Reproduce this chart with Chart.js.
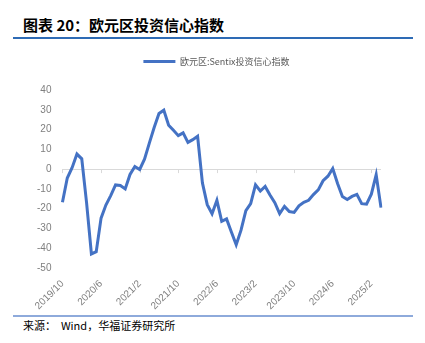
<!DOCTYPE html>
<html>
<head>
<meta charset="utf-8">
<script src="https://cdn.jsdelivr.net/npm/chart.js@4"></script>
<style>
  body { margin: 0; background: #fff; font-family: "Noto Sans CJK SC", sans-serif; }
  #page { position: relative; width: 425px; height: 343px; overflow: hidden; }
  #title { position: absolute; left: 23px; top: 14px; font-size: 15px; font-weight: bold; color: #000; }
  #topRule { position: absolute; left: 13px; top: 37px; width: 400px; height: 2px; background: #2e6bb5; }
  #chartBox { position: absolute; left: 0; top: 39px; width: 425px; height: 275px; }
  #bottomRule { position: absolute; left: 13px; top: 315px; width: 400px; height: 2px; background: #8eaadb; }
  #source { position: absolute; left: 23px; top: 317px; font-size: 11px; color: #000; }
</style>
</head>
<body>
<div id="page">
  <div id="title">图表 20：欧元区投资信心指数</div>
  <div id="topRule"></div>
  <div id="chartBox"><canvas id="myChart"></canvas></div>
  <div id="bottomRule"></div>
  <div id="source">来源：&nbsp;&nbsp;Wind，华福证券研究所</div>
</div>
<script>
const months = [
  "2019/10","2019/11","2019/12",
  "2020/1","2020/2","2020/3","2020/4","2020/5","2020/6","2020/7","2020/8","2020/9","2020/10","2020/11","2020/12",
  "2021/1","2021/2","2021/3","2021/4","2021/5","2021/6","2021/7","2021/8","2021/9","2021/10","2021/11","2021/12",
  "2022/1","2022/2","2022/3","2022/4","2022/5","2022/6","2022/7","2022/8","2022/9","2022/10","2022/11","2022/12",
  "2023/1","2023/2","2023/3","2023/4","2023/5","2023/6","2023/7","2023/8","2023/9","2023/10","2023/11","2023/12",
  "2024/1","2024/2","2024/3","2024/4","2024/5","2024/6","2024/7","2024/8","2024/9","2024/10","2024/11","2024/12",
  "2025/1","2025/2","2025/3","2025/4"
];

const sentix = [
  -16.8, -4.5, 0.7,
  7.6, 5.2, -17.1, -42.9, -41.8, -24.8, -18.2, -13.4, -8.0, -8.3, -10.0, -2.7,
  1.3, -0.2, 5.0, 13.1, 21.0, 28.1, 29.8, 22.2, 19.6, 16.9, 18.3, 13.5,
  14.9, 16.6, -7.0, -18.0, -22.6, -15.8, -26.4, -25.2, -31.8, -38.3, -30.9, -21.0,
  -17.5, -8.0, -11.1, -8.8, -13.1, -17.0, -22.5, -18.9, -21.5, -21.9, -18.6, -16.8,
  -15.8, -12.9, -10.5, -5.9, -3.6, 0.3, -7.3, -13.9, -15.4, -13.8, -12.8, -17.5,
  -17.7, -12.7, -2.9, -19.5
];

const seriesName = "欧元区:Sentix投资信心指数";
const yTicks = [-50, -40, -30, -20, -10, 0, 10, 20, 30, 40];
const labelEvery = 8;

const blue = "#4472c4";

// little tick marks hanging off the zero line, like the excel axis
const zeroTicks = {
  id: "zeroTicks",
  beforeDatasetsDraw(chart) {
    const x = chart.scales.x, y = chart.scales.y;
    const y0 = y.getPixelForValue(0);
    const ctx = chart.ctx;
    ctx.save();
    ctx.strokeStyle = "#d9d9d9";
    ctx.lineWidth = 1;
    ctx.beginPath();
    for (let i = 0; i < months.length; i += labelEvery) {
      const px = Math.round(x.getPixelForValue(i)) + 0.5;
      ctx.moveTo(px, y0);
      ctx.lineTo(px, y0 + 4);
    }
    ctx.stroke();
    ctx.restore();
  }
};

// push the plot down a bit under the legend, and nudge legend right
const legendGap = {
  id: "legendGap",
  beforeInit(chart) {
    const origFit = chart.legend.fit;
    chart.legend.fit = function () {
      origFit.bind(chart.legend)();
      this.height += 14;
    };
  },
  afterLayout(chart) {
    chart.legend.left += 13;
    chart.legend.right += 13;
  }
};

const ctx = document.getElementById("myChart").getContext("2d");
new Chart(ctx, {
  type: "line",
  data: {
    labels: months,
    datasets: [{
      label: seriesName,
      data: sentix,
      borderColor: blue,
      backgroundColor: blue,
      borderWidth: 3,
      pointRadius: 0,
      tension: 0,
      fill: false
    }]
  },
  options: {
    responsive: true,
    maintainAspectRatio: false,
    animation: false,
    layout: { padding: { left: 26, right: 44, top: 0, bottom: 0 } },
    plugins: {
      tooltip: { enabled: false },
      legend: {
        position: "top",
        labels: {
          boxWidth: 32,
          boxHeight: 3,
          padding: 18,
          color: "#595959",
          font: { size: 9, family: "'Noto Sans CJK SC'" },
          generateLabels: (chart) => [{
            text: seriesName,
            fillStyle: blue,
            strokeStyle: blue,
            lineWidth: 0,
            fontColor: "#595959",
            datasetIndex: 0
          }]
        }
      }
    },
    scales: {
      x: {
        offset: false,
        grid: { display: false },
        border: { display: false },
        ticks: {
          autoSkip: false,
          maxRotation: 45,
          minRotation: 45,
          color: "#7f7f7f",
          font: { size: 10, family: "Arial, 'Liberation Sans'" },
          padding: 2,
          callback: function (val, i) {
            return i % labelEvery === 0 ? months[i] : null;
          }
        }
      },
      y: {
        min: yTicks[0],
        max: yTicks[yTicks.length - 1],
        afterBuildTicks: (axis) => { axis.ticks = yTicks.map(v => ({ value: v })); },
        border: { display: false },
        grid: {
          drawTicks: false,
          color: (c) => c.tick && c.tick.value === 0 ? "#d9d9d9" : "rgba(0,0,0,0)"
        },
        ticks: {
          color: "#7f7f7f",
          padding: 11,
          font: { size: 10, family: "Arial, 'Liberation Sans'" }
        }
      }
    }
  },
  plugins: [zeroTicks, legendGap]
});
</script>
</body>
</html>
